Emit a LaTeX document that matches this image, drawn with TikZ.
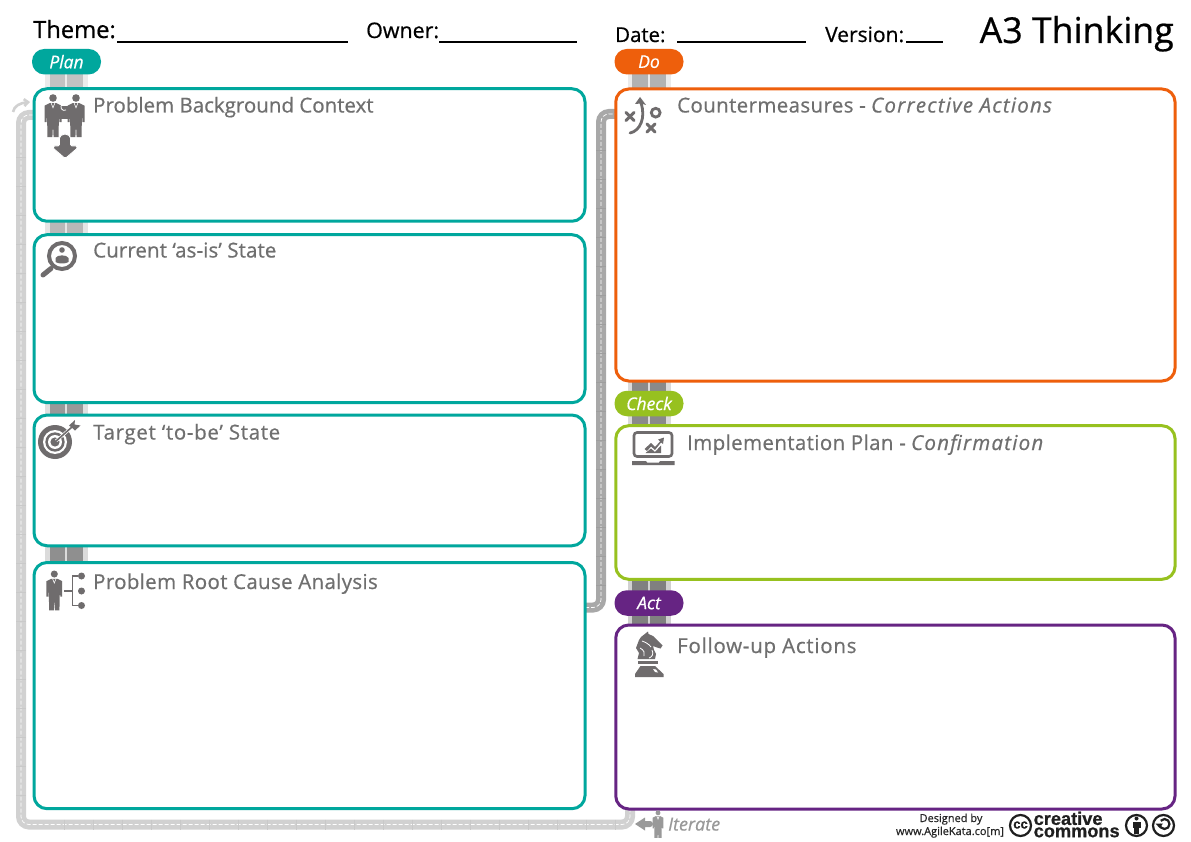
\documentclass[tikz,border=0pt]{standalone}
\usepackage{fontspec}
\setmainfont[FakeBold=0.6]{Open Sans}
\newfontfamily\ccfont[FakeBold=0.7]{Liberation Sans}
\usetikzlibrary{arrows.meta}
\definecolor{a3teal}{HTML}{00A79D}
\definecolor{a3orange}{HTML}{EE5F0C}
\definecolor{a3green}{HTML}{97C11F}
\definecolor{a3purple}{HTML}{662483}
\definecolor{a3icon}{HTML}{6F6C6D}
\definecolor{a3text}{HTML}{6F6F6F}
\newcommand{\spaced}[1]{\addfontfeature{LetterSpace=#1}}
\tikzset{
  panel/.style={draw=#1,line width=3pt,fill=white,rounded corners=13pt,inner sep=0pt,outer sep=0pt},
  pill/.style={fill=#1,rounded corners=12.4pt,minimum width=69pt,minimum height=25.5pt,inner sep=0pt,text=white,font=\fontsize{17.5}{17.5}\selectfont\itshape},
  head/.style={anchor=base west,inner sep=0pt,text=a3text,font=\fontsize{20.5}{20.5}\selectfont},
  headtop/.style={anchor=base west,inner sep=0pt,text=black,font=\fontsize{#1}{#1}\selectfont},
  blank/.style={line width=2pt,black},
  credit/.style={anchor=base,inner sep=0pt,text=black!85,font=\fontsize{11}{11}\selectfont},
  ccword/.style={anchor=north west,align=left,inner sep=0pt,text=black!88,font=\ccfont\bfseries\fontsize{18.2}{12.3}\selectfont},
  road/.style={line width=10pt,draw=#1,rounded corners=8pt},
  centreline/.style={line width=.7pt,draw=white,dash pattern=on 4pt off 2pt,rounded corners=8pt},
  iconline/.style={draw=a3icon,fill=none,line cap=round},
}
\newcommand{\manfig}[3]{%
  \begin{scope}[shift={#1},scale=#2]
    \fill[#3] (0,3.8) circle (3.8);
    \fill[#3] (-3.5,9) -- (3.5,9) -- (8.5,11.5) -- (8.5,28) -- (6.5,28) -- (6,20) -- (5.5,43) -- (0.6,43) -- (0,30) -- (-0.6,43) -- (-5.5,43) -- (-6,20) -- (-6.5,28) -- (-8.5,28) -- (-8.5,11.5) -- cycle;
    \draw[white,line width=.6pt] (-1.8,9) -- (0,13.5) -- (1.8,9);
  \end{scope}}
\newcommand{\linksegment}[5]{% x, ytop, ybottom, dark colour, pale colour
  \fill[#5] (#1-2,#2) rectangle (#1+41,#3);
  \fill[#4] (#1+2.5,#2) rectangle (#1+18.3,#3);
  \fill[#4] (#1+20,#2) rectangle (#1+36,#3);
}
\begin{document}
\begin{tikzpicture}[x=1pt,y=-1pt]
\useasboundingbox (0,0) rectangle (1191,842);
\fill[white] (0,0) rectangle (1191,842);

% named anchors of the connectors
\coordinate (loopstart) at (630,808);
\coordinate (loopturn) at (21,824.5);
\coordinate (loopend) at (33,115);
\coordinate (midout) at (585,607.5);
\coordinate (midturn) at (601,114);
\coordinate (midin) at (616,114);
\coordinate (arrowfrom) at (13,112);
\coordinate (arrowto) at (30,102);

% long roads
\draw[road=black!18] (loopend) -| (loopturn) -| (loopstart);
\draw[centreline] (loopend) -| (loopturn) -| (loopstart);
\foreach \yy in {157,186,...,810} \draw[black!21,line width=.4pt] (16,\yy) -- (26,\yy);
\foreach \xx in {64,93,...,620} \draw[black!21,line width=.4pt] (\xx,819.5) -- (\xx,829.5);
\draw[road=black!34] (midout) -| (midturn) -- (midin);
\draw[centreline] (midout) -| (midturn) -- (midin);
\foreach \yy in {150,179,...,590} \draw[black!38,line width=.4pt] (596,\yy) -- (606,\yy);
\draw[-{Straight Barb[length=4pt,width=7pt]},line width=2.6pt,black!18] (arrowfrom) .. controls (14,106) and (20,103) .. (arrowto);

% stacked link segments behind the panels
\linksegment{47}{70}{90}{black!24}{black!8}
\linksegment{47}{220}{236}{black!28}{black!10}
\linksegment{47}{401}{417}{black!40}{black!12}
\linksegment{47}{544}{564}{black!44}{black!14}
\linksegment{629.5}{70}{91}{black!30}{black!8}
\linksegment{629.5}{379}{428}{black!46}{black!14}
\linksegment{629.5}{577}{627}{black!50}{black!18}

% panels
\node[panel=a3teal,minimum width=551pt,minimum height=132.5pt] (background) at (309.5,155) {};
\node[panel=a3teal,minimum width=551pt,minimum height=168pt] (current) at (309.5,318.7) {};
\node[panel=a3teal,minimum width=551pt,minimum height=130.7pt] (target) at (309.5,480.4) {};
\node[panel=a3teal,minimum width=551pt,minimum height=246.2pt] (root) at (309.5,685.6) {};
\node[panel=a3orange,minimum width=559.3pt,minimum height=292pt] (measures) at (895.4,235) {};
\node[panel=a3green,minimum width=559.3pt,minimum height=153.6pt] (plan) at (895.4,502.5) {};
\node[panel=a3purple,minimum width=559.3pt,minimum height=184pt] (follow) at (895.4,717) {};

% pills
\node[pill=a3teal] (pillplan) at (66.5,61.7) {Plan};
\node[pill=a3orange] (pilldo) at (649,61.7) {Do};
\node[pill=a3green] (pillcheck) at (649,403.5) {Check};
\node[pill=a3purple] (pillact) at (649,603) {Act};

% header
\node[headtop=23.7] (theme) at (33,38) {Theme:};
\node[headtop=21.4] (owner) at (366,38) {Owner:};
\node[headtop=20.4] (date) at (615,42) {Date:};
\node[headtop=21] (version) at (825,42) {Version:};
\node[anchor=base east,inner sep=0pt,text=black,font=\fontsize{35.7}{35.7}\selectfont] (title) at (1174,43) {A3 Thinking};
\coordinate (b1a) at (117,41.7); \coordinate (b1b) at (348,41.7);
\coordinate (b2a) at (439,41.7); \coordinate (b2b) at (577,41.7);
\coordinate (b3a) at (677,42); \coordinate (b3b) at (806,42);
\coordinate (b4a) at (906,42); \coordinate (b4b) at (943,42);
\draw[blank] (b1a) -- (b1b);
\draw[blank] (b2a) -- (b2b);
\draw[blank] (b3a) -- (b3b);
\draw[blank] (b4a) -- (b4b);

% panel headings
\node[head] (h1) at (93,112.5) {Problem Background Context};
\node[head] (h2) at (93,257.5) {\spaced{.5}Current ‘as-is’ State};
\node[head] (h3) at (93,439.5) {\spaced{3.3}Target ‘to-be’ State};
\node[head] (h4) at (93,589) {\spaced{1.6}Problem Root Cause Analysis};
\node[head] (h5) at (677,112.5) {{\spaced{1.8}Countermeasures -} \textit{\spaced{6}Corrective Actions}};
\node[head] (h6) at (687,450) {{\spaced{1.8}Implementation Plan -} \textit{\spaced{6}Confirmation}};
\node[head] (h7) at (677,653) {\spaced{3.6}Follow-up Actions};

% icon: two people and a puzzle
\manfig{(53,94.2)}{1}{a3icon}
\manfig{(76,94.2)}{1}{a3icon}
\fill[a3icon] (59,106) rectangle (70,119);
\draw[white,line width=.8pt] (66,110) arc (60:300:3.4);
\filldraw[fill=a3icon,draw=white,line width=.8pt,rounded corners=1.5pt] (59.5,146) -- (59.5,139.5) arc (180:360:5.5) -- (70.5,146) -- (77.5,146) -- (77.5,148) -- (65.2,158.5) -- (53,148) -- (53,146) -- cycle;

% icon: magnifier
\draw[a3icon,line width=4pt] (62,256) circle (13);
\fill[a3icon] (62,250) circle (2.8);
\fill[a3icon] (55.5,262) -- (55.5,258) .. controls (57,254.5) and (67,254.5) .. (68.5,258) -- (68.5,262) .. controls (66,264) and (58,264) .. (55.5,262) -- cycle;
\draw[a3icon,line width=5pt,line cap=round] (43,275) -- (51,268.5);

% icon: target
\fill[a3icon] (55,442) circle (17);
\fill[white] (55,442) circle (12);
\fill[a3icon] (55,442) circle (9.7);
\fill[white] (55,442) circle (7);
\fill[a3icon] (55,442) circle (4.6);
\draw[white,line width=3pt] (56,441) -- (71,428);
\draw[a3icon,line width=1.6pt] (55,442) -- (72,427);
\fill[a3icon] (69,425.5) -- (75,420) -- (74.5,424.5) -- (80.5,425.5) -- (75,430.5) -- (73.5,429) -- cycle;

% icon: root cause tree
\manfig{(54.3,570.5)}{.93}{a3icon}
\draw[a3icon,line width=1.7pt] (64,591) -- (72.5,591);
\draw[a3icon,line width=1.7pt] (78,576) -- (72.5,576) -- (72.5,605.5) -- (78,605.5);
\fill[a3icon] (81.5,576) circle (3.5);
\fill[a3icon] (81.5,591) circle (3.5);
\fill[a3icon] (81.5,605.5) circle (3.5);

% icon: playbook
\draw[iconline,line width=3pt] (626,112.5) -- (634,120.5);
\draw[iconline,line width=3pt] (634,112.5) -- (626,120.5);
\draw[iconline,line width=2.8pt] (655.7,112.7) circle (4.4);
\draw[iconline,line width=3pt] (647,124) -- (655,132);
\draw[iconline,line width=3pt] (655,124) -- (647,132);
\draw[iconline,line width=2.8pt] (630,133) .. controls (640,131) and (646,118) .. (641,103);
\fill[a3icon] (640,97) -- (646,105) -- (641,103.5) -- (635,104) -- cycle;

% icon: laptop and chart
\draw[a3icon,line width=2.6pt,rounded corners=3pt] (634,432.5) rectangle (672,456.5);
\fill[a3icon] (632,461) -- (646,461) -- (647,462.5) -- (659,462.5) -- (660,461) -- (674.5,461) -- (674.5,465) -- (632,465) -- cycle;
\fill[a3icon] (644.5,449) -- (651,443) -- (655,447) -- (660,441.5) -- (658,439.5) -- (664,437.5) -- (663,444) -- (661,442.5) -- (655,450) -- (651,446.5) -- (647,451) -- cycle;
\fill[a3icon] (645.5,453) -- (651,448.5) -- (655,452) -- (661,445.5) -- (661,453) -- cycle;

% icon: chess knight
\fill[a3icon] (639,640) -- (641,637) -- (648,631.5) -- (648.5,634) -- (653,636) -- (657,640) -- (662.5,645.5) -- (660.5,648.5) -- (657,647.5) -- (653,646) -- (654,650) -- (656,654) -- (655,659) -- (637.5,659) -- (639,653) -- (636,648) -- cycle;
\draw[white,line width=.8pt] (642,641) .. controls (645,642) and (649,644) .. (651,647);
\draw[white,line width=.8pt] (640,648) .. controls (644,650) and (645,653) .. (644,656);
\draw[white,line width=.8pt] (652,650) .. controls (654,654) and (652,657) .. (649,658);
\fill[a3icon] (637.5,661) -- (657.5,661) -- (657.5,664) -- (637.5,664) -- cycle;
\fill[a3icon] (640.5,666) -- (655,666) -- (663.5,674) -- (663.5,677) -- (635,677) -- (635,674) -- cycle;
\fill[white] (653,669) -- (656,669.5) -- (658,672.5) -- (655,672) -- cycle;

% iterate
\fill[black!40] (635,824) -- (645,817.5) -- (645,821) -- (650,821) arc (-90:90:3) -- (645,827) -- (645,830.5) -- cycle;
\manfig{(658,810.4)}{.64}{black!40}
\node[anchor=base west,inner sep=0pt,text=black!40,font=\fontsize{18}{18}\selectfont\itshape] (iterate) at (668,830.5) {Iterate};

% credits
\node[credit] (designed) at (951,822) {Designed by};
\node[credit] (site) at (950,835) {www.AgileKata.co[m]};
\draw[black!88,line width=2.2pt] (1020.5,825.5) circle (10.5);
\node[inner sep=0pt,text=black!88,font=\ccfont\bfseries\fontsize{13}{13}\selectfont] (ccmark) at (1020.5,825) {cc};
\node[ccword] (ccwords) at (1033.5,811.5) {creative\\commons};
\draw[black!88,line width=2.2pt] (1136.5,825.5) circle (10.5);
\fill[black!88] (1136.5,818.5) circle (2);
\fill[black!88] (1132.5,821.5) rectangle (1140.5,828);
\fill[black!88] (1134,828) rectangle (1139,834);
\draw[black!88,line width=2.2pt] (1163.5,825.5) circle (10.5);
\draw[black!88,line width=2.2pt] (1159.5,824) arc (180:-140:5);
\fill[black!88] (1155.5,823.5) -- (1163,823.5) -- (1159.5,828) -- cycle;
\end{tikzpicture}
\end{document}
